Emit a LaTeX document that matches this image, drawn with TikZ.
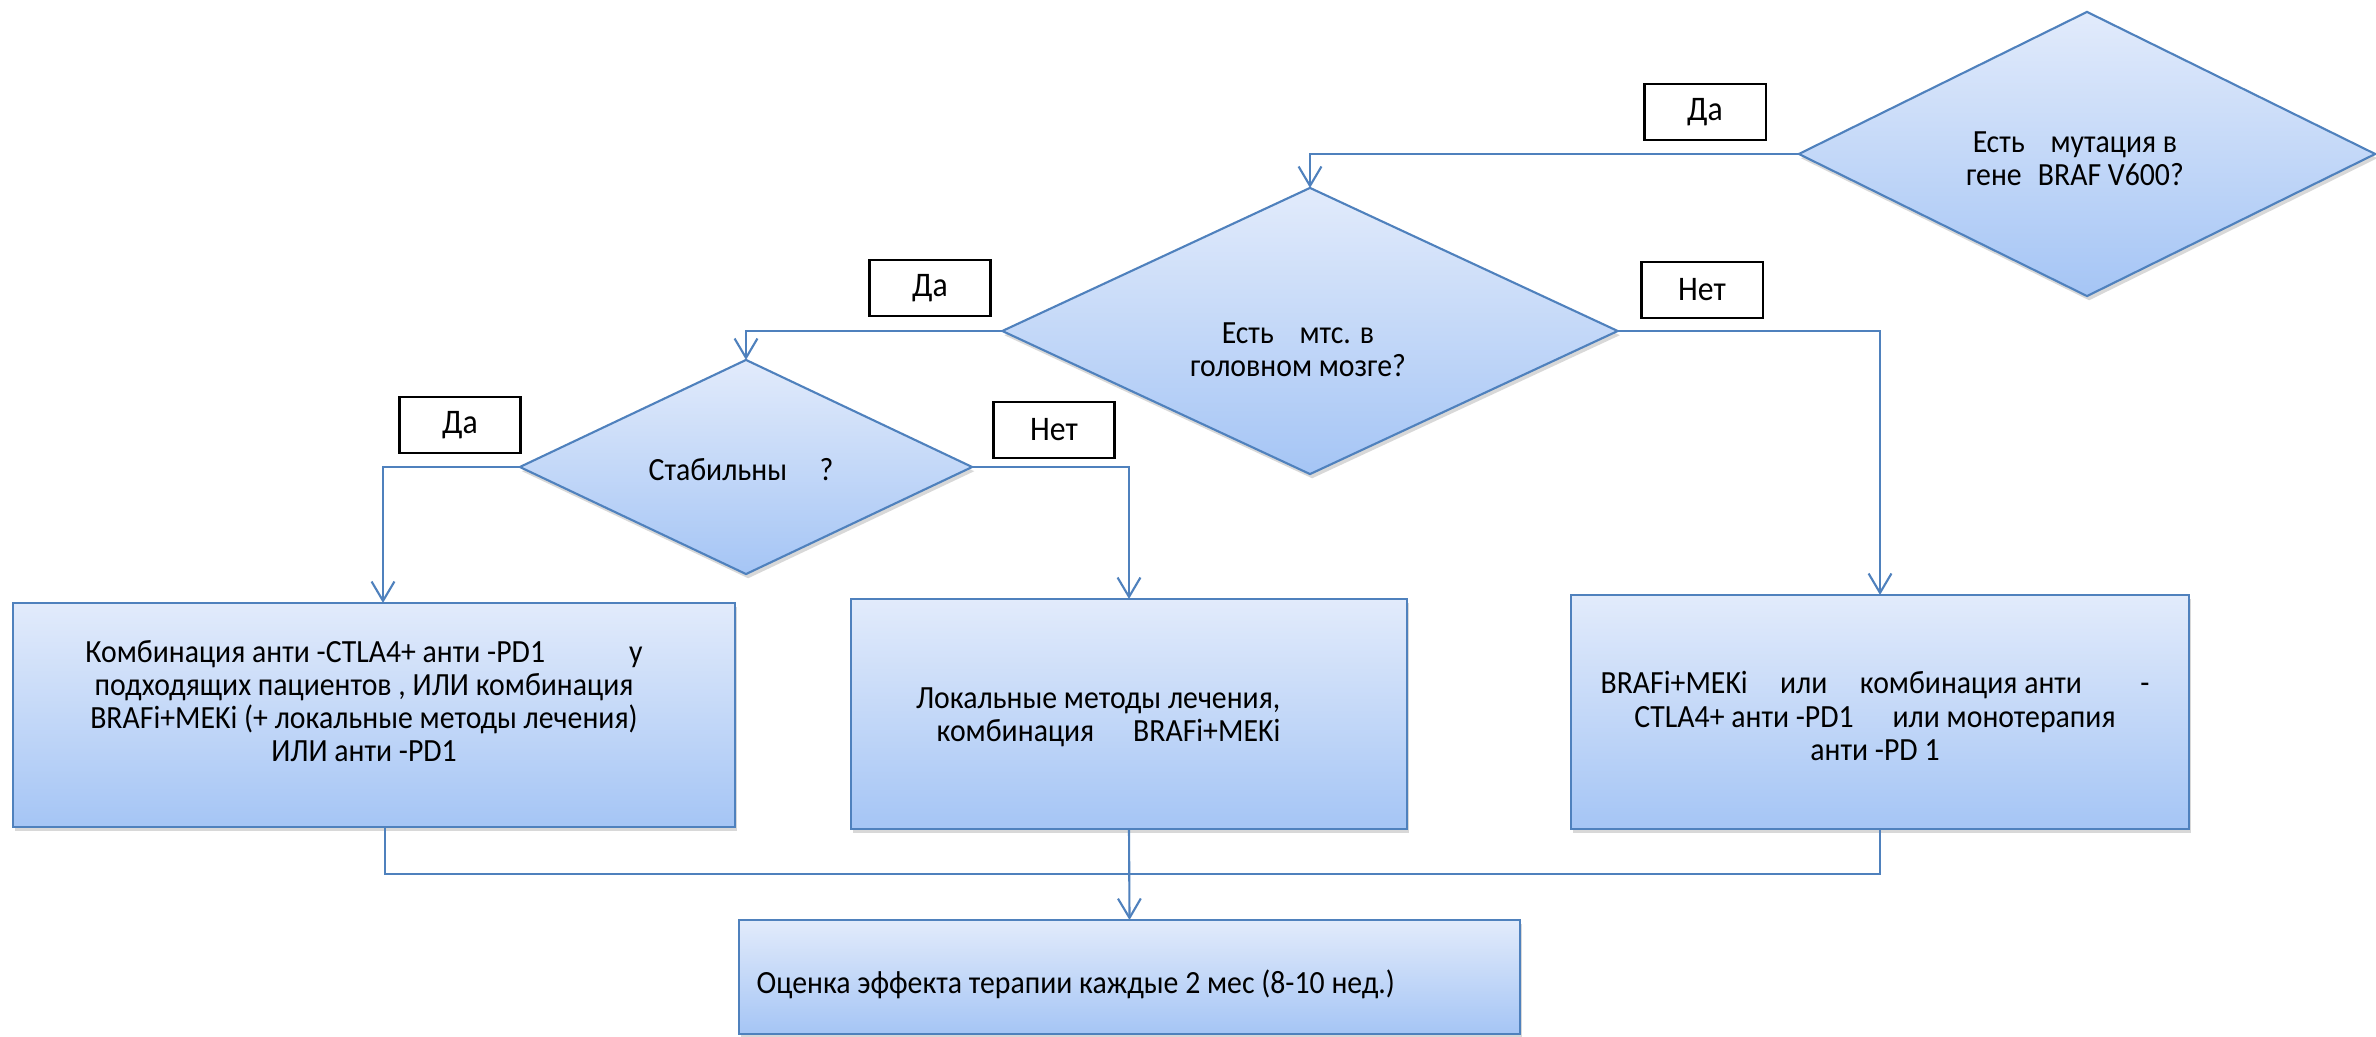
\documentclass[tikz,border=0pt]{standalone}
\usepackage{fontspec}
\setmainfont{Carlito}[FakeStretch=0.92]
\usetikzlibrary{shapes.geometric,arrows.meta,shadows}
\definecolor{ln}{RGB}{79,129,189}
\definecolor{ftop}{RGB}{226,235,251}
\definecolor{fbot}{RGB}{165,197,245}
\begin{document}
\begin{tikzpicture}[x=0.01cm,y=-0.01cm,
  shapebox/.style={draw=ln, line width=0.6pt, top color=ftop, bottom color=fbot, outer sep=0pt, inner sep=0pt,
    drop shadow={opacity=0.3, shadow xshift=0.6pt, shadow yshift=-1.2pt}},
  dia/.style={shapebox, diamond},
  rbox/.style={shapebox, rectangle},
  lbl/.style={draw=black, line width=0.6pt, fill=white, minimum width=1.21cm, minimum height=0.56cm, inner sep=0pt, font=\fontsize{9.8}{11}\selectfont},
  txt/.style={align=center, font=\fontsize{9.2}{9.4}\selectfont, inner sep=0pt},
  conn/.style={draw=ln, line width=0.6pt},
  arr/.style={conn, -{Straight Barb[length=5.5pt,width=6.5pt]}}
]
\useasboundingbox (0,0) rectangle (2376,1037);
\fill[white] (0,0) rectangle (2376,1037);

% decisions
\node[dia, minimum width=5.76cm, minimum height=2.84cm] (braf) at (2087,154) {};
\node[dia, minimum width=6.15cm, minimum height=2.86cm] (mtc) at (1310,331) {};
\node[dia, minimum width=4.52cm, minimum height=2.14cm] (stab) at (746,467) {};

\node[txt] (brafT) at (2075,159) {Есть\hspace{0.8em}мутация в\\гене\hspace{0.5em}BRAF V600?};
\node[txt] (mtcT) at (1298,350) {Есть\hspace{0.8em}мтс. в\\головном мозге?};
\node[txt] (stabT) at (741,470) {Стабильны\hspace{1em}?};

% action boxes
\node[rbox, minimum width=7.22cm, minimum height=2.24cm] (box1) at (374,715) {};
\node[rbox, minimum width=5.56cm, minimum height=2.30cm] (box2) at (1129,714) {};
\node[rbox, minimum width=6.17cm, minimum height=2.34cm] (box3) at (1880,712) {};
\node[rbox, minimum width=7.81cm, minimum height=1.14cm] (bot) at (1129.5,977) {};

\node[txt] (box1T) at (364,701) {Комбинация анти -CTLA4+ анти -PD1\hspace{2.6em}у\\подходящих пациентов , ИЛИ комбинация\\BRAFi+MEKi (+ локальные методы лечения)\\ИЛИ анти -PD1};
\node[txt, align=right, anchor=east] (box2T) at (1281,717) {Локальные методы лечения,\\комбинация\hspace{1.2em}BRAFi+MEKi};
\node[txt] (box3T) at (1875,716) {BRAFi+MEKi\hspace{1em}или\hspace{1em}комбинация анти\hspace{1.8em}-\\CTLA4+ анти -PD1\hspace{1.2em}или монотерапия\\анти -PD 1};
\node[txt, anchor=west] (botT) at (756,984) {Оценка эффекта терапии каждые 2 мес (8-10 нед.)};

% yes/no labels
\node[lbl] (da1) at (1705,112) {Да};
\node[lbl] (net1) at (1702,290) {Нет};
\node[lbl] (da2) at (930,288) {Да};
\node[lbl] (da3) at (460,425) {Да};
\node[lbl] (net2) at (1054,430) {Нет};

% connectors
\draw[arr] (braf.west) -| (mtc.north);
\draw[arr] (mtc.west) -| (stab.north);
\draw[arr] (mtc.east) -| (box3.north);
\draw[arr] (stab.west) -| ([shift={(9,0)}]box1.north);
\draw[arr] (stab.east) -| (box2.north);
\path (box2.south) ++(0,45) coordinate (merge);
\draw[conn] ([shift={(11,0)}]box1.south) |- (merge) -| (box3.south);
\draw[arr] (box2.south) -- (bot.north);
\end{tikzpicture}
\end{document}
